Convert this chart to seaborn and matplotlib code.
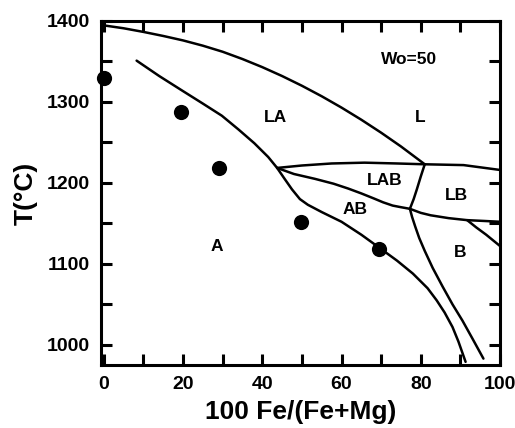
import matplotlib
matplotlib.use("Agg")
import matplotlib.pyplot as plt
import seaborn as sns
import pandas as pd
from matplotlib.ticker import MultipleLocator

sns.set_theme(style="ticks")
plt.rcParams['font.family'] = ['Liberation Sans', 'DejaVu Sans']
plt.rcParams['font.weight'] = 'bold'
for k in ['text.color', 'axes.labelcolor', 'xtick.color', 'ytick.color', 'axes.edgecolor']:
    plt.rcParams[k] = 'black'

# Phase boundary curves (x = 100 Fe/(Fe+Mg), y = T in °C)
liquidus_x = [-0.6, 5, 10, 15, 20, 25, 30, 35, 40, 45, 50, 55, 60, 65, 70, 75, 81]
liquidus_y = [1395, 1391, 1386.5, 1381.5, 1376, 1369.5, 1362, 1353, 1343, 1332, 1320, 1307, 1293,
              1278, 1262, 1245, 1223]

solidusA_x = [8.3, 14, 19.8, 25, 29.8, 34, 38, 41.5, 43.75, 45.5, 47.5, 49.5, 51.5, 55, 60, 65, 69.8,
              74, 78, 81.7, 84, 86, 88, 89.5, 91.3]
solidusA_y = [1351, 1332, 1314, 1298, 1283, 1266, 1249, 1232, 1218.5, 1206, 1192, 1180, 1173, 1164, 1152,
              1136, 1119, 1104, 1088, 1070, 1055, 1040, 1022, 1004, 979]

solvusB_x = [77.25, 77.8, 78.6, 79.6, 81, 83, 85.5, 88, 90.5, 93, 95.8]
solvusB_y = [1168, 1158, 1146, 1132, 1116, 1095, 1072, 1050, 1030, 1008, 983]

upper_x = [43.75, 50, 57.5, 65.8, 74, 81, 90.8, 100]
upper_y = [1218.5, 1221.5, 1224, 1225, 1224, 1223, 1222, 1216]

lab_x = [43.75, 48, 53.3, 58, 61.7, 65, 68.3, 70.5, 72.9, 75, 77.25]
lab_y = [1218.5, 1211, 1205, 1199, 1193, 1187, 1180.5, 1176, 1172, 1170, 1168]

lablb_x = [81, 80, 79, 78.2, 77.25]
lablb_y = [1223, 1208, 1192, 1180, 1168]

lbb_x = [77.25, 80, 82.5, 87, 91.7, 96, 100]
lbb_y = [1168, 1163, 1160, 1156.5, 1154, 1153, 1152]

small_x = [91.7, 94, 96.5, 100]
small_y = [1154, 1145, 1136, 1122]

dots_x = [0, 19.5, 29, 49.7, 69.4]
dots_y = [1330, 1288, 1219, 1152, 1118]

labels = ["LA", "L", "Wo=50", "LAB", "LB", "AB", "A", "B"]
label_x = [43.3, 79.8, 77, 70.8, 89, 63.3, 28.5, 90]
label_y = [1281, 1281, 1352, 1203.5, 1185, 1167, 1121, 1114]

fig = plt.figure(figsize=(5.15, 4.28), dpi=100)
ax = fig.add_axes([0.196, 0.147, 0.775, 0.804])

curves = [(liquidus_x, liquidus_y), (solidusA_x, solidusA_y), (solvusB_x, solvusB_y),
          (upper_x, upper_y), (lab_x, lab_y), (lablb_x, lablb_y), (lbb_x, lbb_y),
          (small_x, small_y)]
for cx, cy in curves:
    df = pd.DataFrame({"x": cx, "y": cy})
    sns.lineplot(data=df, x="x", y="y", sort=False, estimator=None, color="black",
                 linewidth=1.8, ax=ax)

sns.scatterplot(x=dots_x, y=dots_y, color="black", s=120, edgecolor="black",
                linewidth=0, ax=ax, zorder=5, clip_on=False)

for t, lx, ly in zip(labels, label_x, label_y):
    ax.text(lx, ly, t, ha="center", va="center", fontsize=12.5, fontweight="bold")

ax.xaxis.set_major_locator(MultipleLocator(20))
ax.xaxis.set_minor_locator(MultipleLocator(10))
ax.yaxis.set_major_locator(MultipleLocator(100))
ax.yaxis.set_minor_locator(MultipleLocator(50))
ax.set_xlim(-0.7, 100)
ax.set_ylim(975, 1400)
ax.tick_params(which="both", direction="in", length=8, width=2.2,
               top=True, right=True, labelsize=14, pad=8)
for lab in ax.get_xticklabels() + ax.get_yticklabels():
    lab.set_fontweight("bold")
for sp in ax.spines.values():
    sp.set_linewidth(2.2)
    sp.set_visible(True)

ax.set_xlabel("100 Fe/(Fe+Mg)", fontsize=19, fontweight="bold", labelpad=5)
ax.set_ylabel("T(°C)", fontsize=19, fontweight="bold", labelpad=6)

fig.savefig("out.png", dpi=100)
